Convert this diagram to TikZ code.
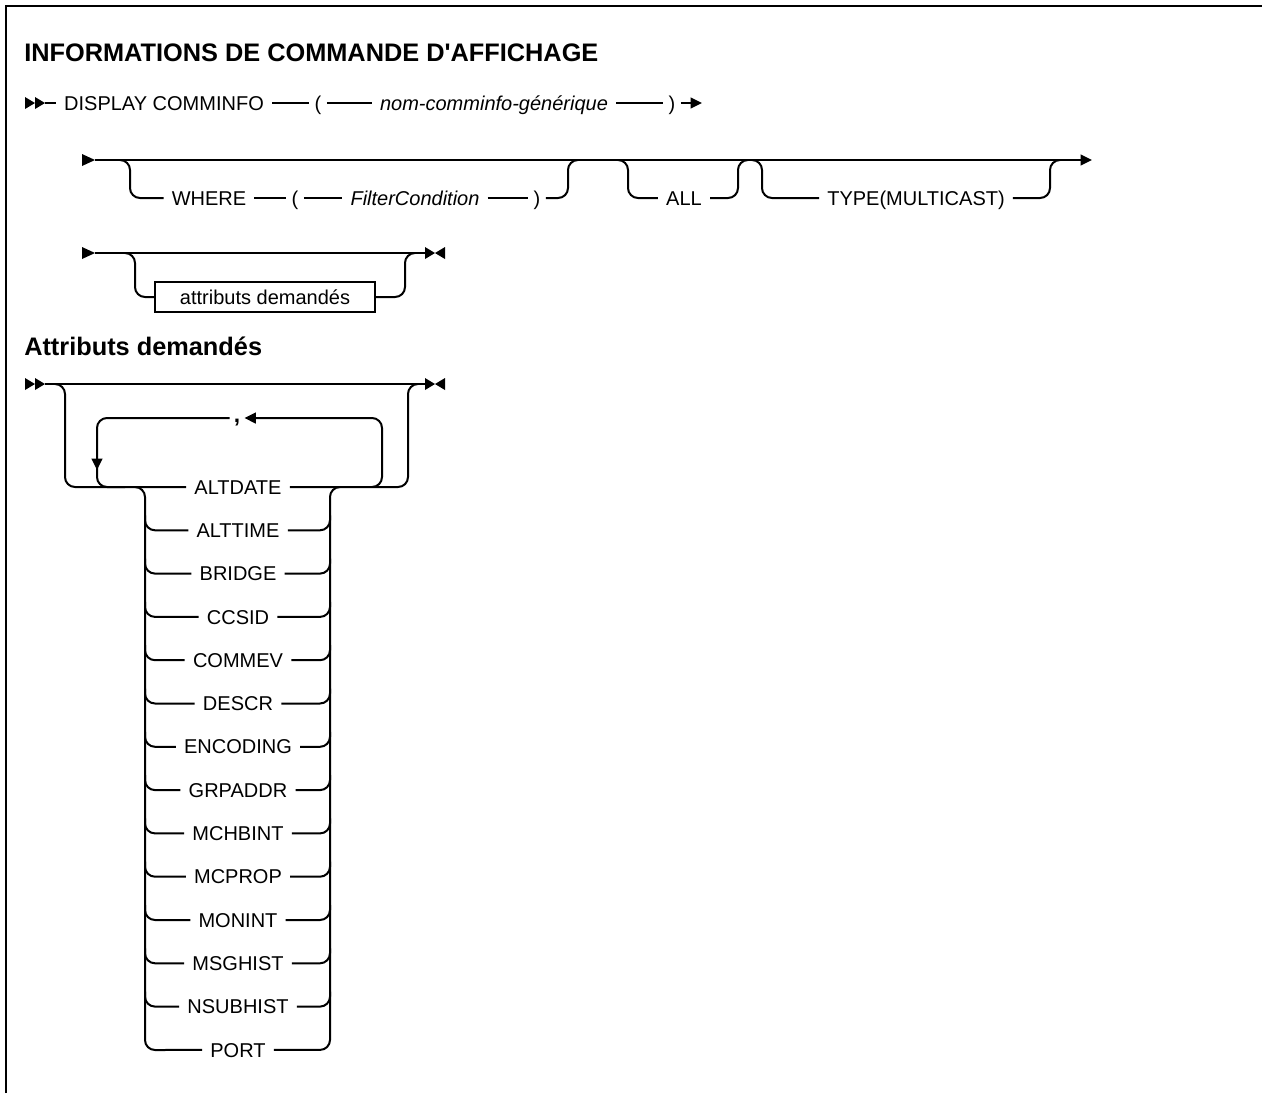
\documentclass[tikz,border=0pt]{standalone}
\usepackage{fontspec}
\setmainfont{Liberation Sans}[Ligatures=TeXOff]
\usetikzlibrary{arrows.meta,positioning}
\tikzset{
  pics/twin/.style={code={\fill (0,-6)--(10,0)--(0,6)--cycle; \fill (10,-6)--(20,0)--(10,6)--cycle;}},
  pics/lone/.style={code={\fill (0,-6)--(13,0)--(0,6)--cycle;}},
  pics/halt/.style={code={\fill (0,-6)--(10,0)--(0,6)--cycle; \fill (20,-6)--(10,0)--(20,6)--cycle;}},
}
\begin{document}
\begin{tikzpicture}[x=0.75pt,y=-0.75pt,>={Triangle[length=8.5pt,width=8pt]},
  every node/.style={font=\fontsize{15}{18}\selectfont,text height=10.7pt,text depth=0pt},
  kw/.style={inner xsep=6pt,inner ysep=2pt},
  var/.style={kw,font=\fontsize{15}{18}\selectfont\itshape},
  sym/.style={inner xsep=4pt,inner ysep=2pt},
  refbox/.style={draw,line width=1.2pt,minimum width=165pt,minimum height=22.5pt,inner sep=0pt},
  heading/.style={anchor=base west,inner sep=0pt,font=\fontsize{19}{22}\selectfont\bfseries},
  rail/.style={line width=1.5pt,rounded corners=7.5pt}]
\useasboundingbox (0,0) rectangle (1262,1093);
\draw[line width=2pt] (6,1093) -- (6,6) -- (1262,6);
\node[heading] (title) at (24,61) {INFORMATIONS DE COMMANDE D'AFFICHAGE};
% DISPLAY COMMINFO (name)
\pic at (25,103) {twin};
\coordinate (s1) at (45,103);
\coordinate (e1) at (702,103);
\node[kw] (display) at (164,103) {DISPLAY COMMINFO};
\node[sym] (lp1) at (318,103) {(};
\node[var] (cname) at (494,103) {nom-comminfo-générique};
\node[sym] (rp1) at (672,103) {)};
\draw[rail] (s1) -- (display) (display) -- (lp1) (lp1) -- (cname) (cname) -- (rp1);
\draw[rail,->] (rp1) -- (e1);
% options
\pic at (82,160) {lone};
\coordinate (s2) at (95,160);
\coordinate (e2) at (1092,160);
\draw[rail,->] (s2) -- (e2);
\node[kw] (where) at (209,198) {WHERE};
\node[sym] (lp2) at (295,198) {(};
\node[var] (filter) at (415,198) {FilterCondition};
\node[sym] (rp2) at (537,198) {)};
\node[kw] (all) at (684,198) {ALL};
\node[kw] (type) at (916,198) {TYPE(MULTICAST)};
\draw[rail] (120,160) -| (130,198) -- (where);
\draw[rail] (where) -- (lp2) (lp2) -- (filter) (filter) -- (rp2);
\draw[rail] (rp2) -| (568,160) -- (578,160);
\draw[rail] (618,160) -| (628,198) -- (all);
\draw[rail] (all) -| (738,160) -- (748,160);
\draw[rail] (752,160) -| (762,198) -- (type);
\draw[rail] (type) -| (1050,160) -- (1060,160);
% requested attributes
\pic at (82,253) {lone};
\coordinate (s3) at (95,253);
\coordinate (e3) at (425,253);
\draw[rail] (s3) -- (e3);
\pic at (425,253) {halt};
\node[refbox] (attr) at (265,297) {attributs demandés};
\draw[rail] (125,253) -| (135,297) -- (attr);
\draw[rail] (attr) -| (405,253) -- (415,253);
\node[heading] (sub) at (24,355) {Attributs demandés};
% attribute list
\pic at (25,384) {twin};
\coordinate (s4) at (45,384);
\coordinate (e4) at (425,384);
\draw[rail] (s4) -- (e4);
\pic at (425,384) {halt};
\node[kw] (c0) at (238,487) {ALTDATE};
\draw[rail] (55,384) -| (65,487) -- (c0);
\draw[rail] (c0) -| (408,384) -- (418,384);
\node[sym,inner xsep=3pt,font=\fontsize{17}{18}\selectfont\bfseries] (comma) at (237,415) {,};
\draw[rail,->] (372,487) -| (382,418) -- (comma.east |- 0,418);
\draw[rail,->] (comma.west |- 0,418) -| (97,470);
\draw[rail] (97,466) |- (125,487);
\foreach \lbl [count=\i] in {ALTTIME,BRIDGE,CCSID,COMMEV,DESCR,ENCODING,GRPADDR,MCHBINT,MCPROP,MONINT,MSGHIST,NSUBHIST,PORT}
  \node[kw] (c\i) at (238,{487+43.3*\i}) {\lbl};
\draw[rail] (135,487) -| (145,1050) -- (c13);
\draw[rail] (c13) -| (330,487) -- (340,487);
\foreach \i in {1,...,12} {
  \draw[rail] (145,{472+43.3*\i}) |- (c\i);
  \draw[rail] (c\i) -| (330,{472+43.3*\i});
}
\end{tikzpicture}
\end{document}
